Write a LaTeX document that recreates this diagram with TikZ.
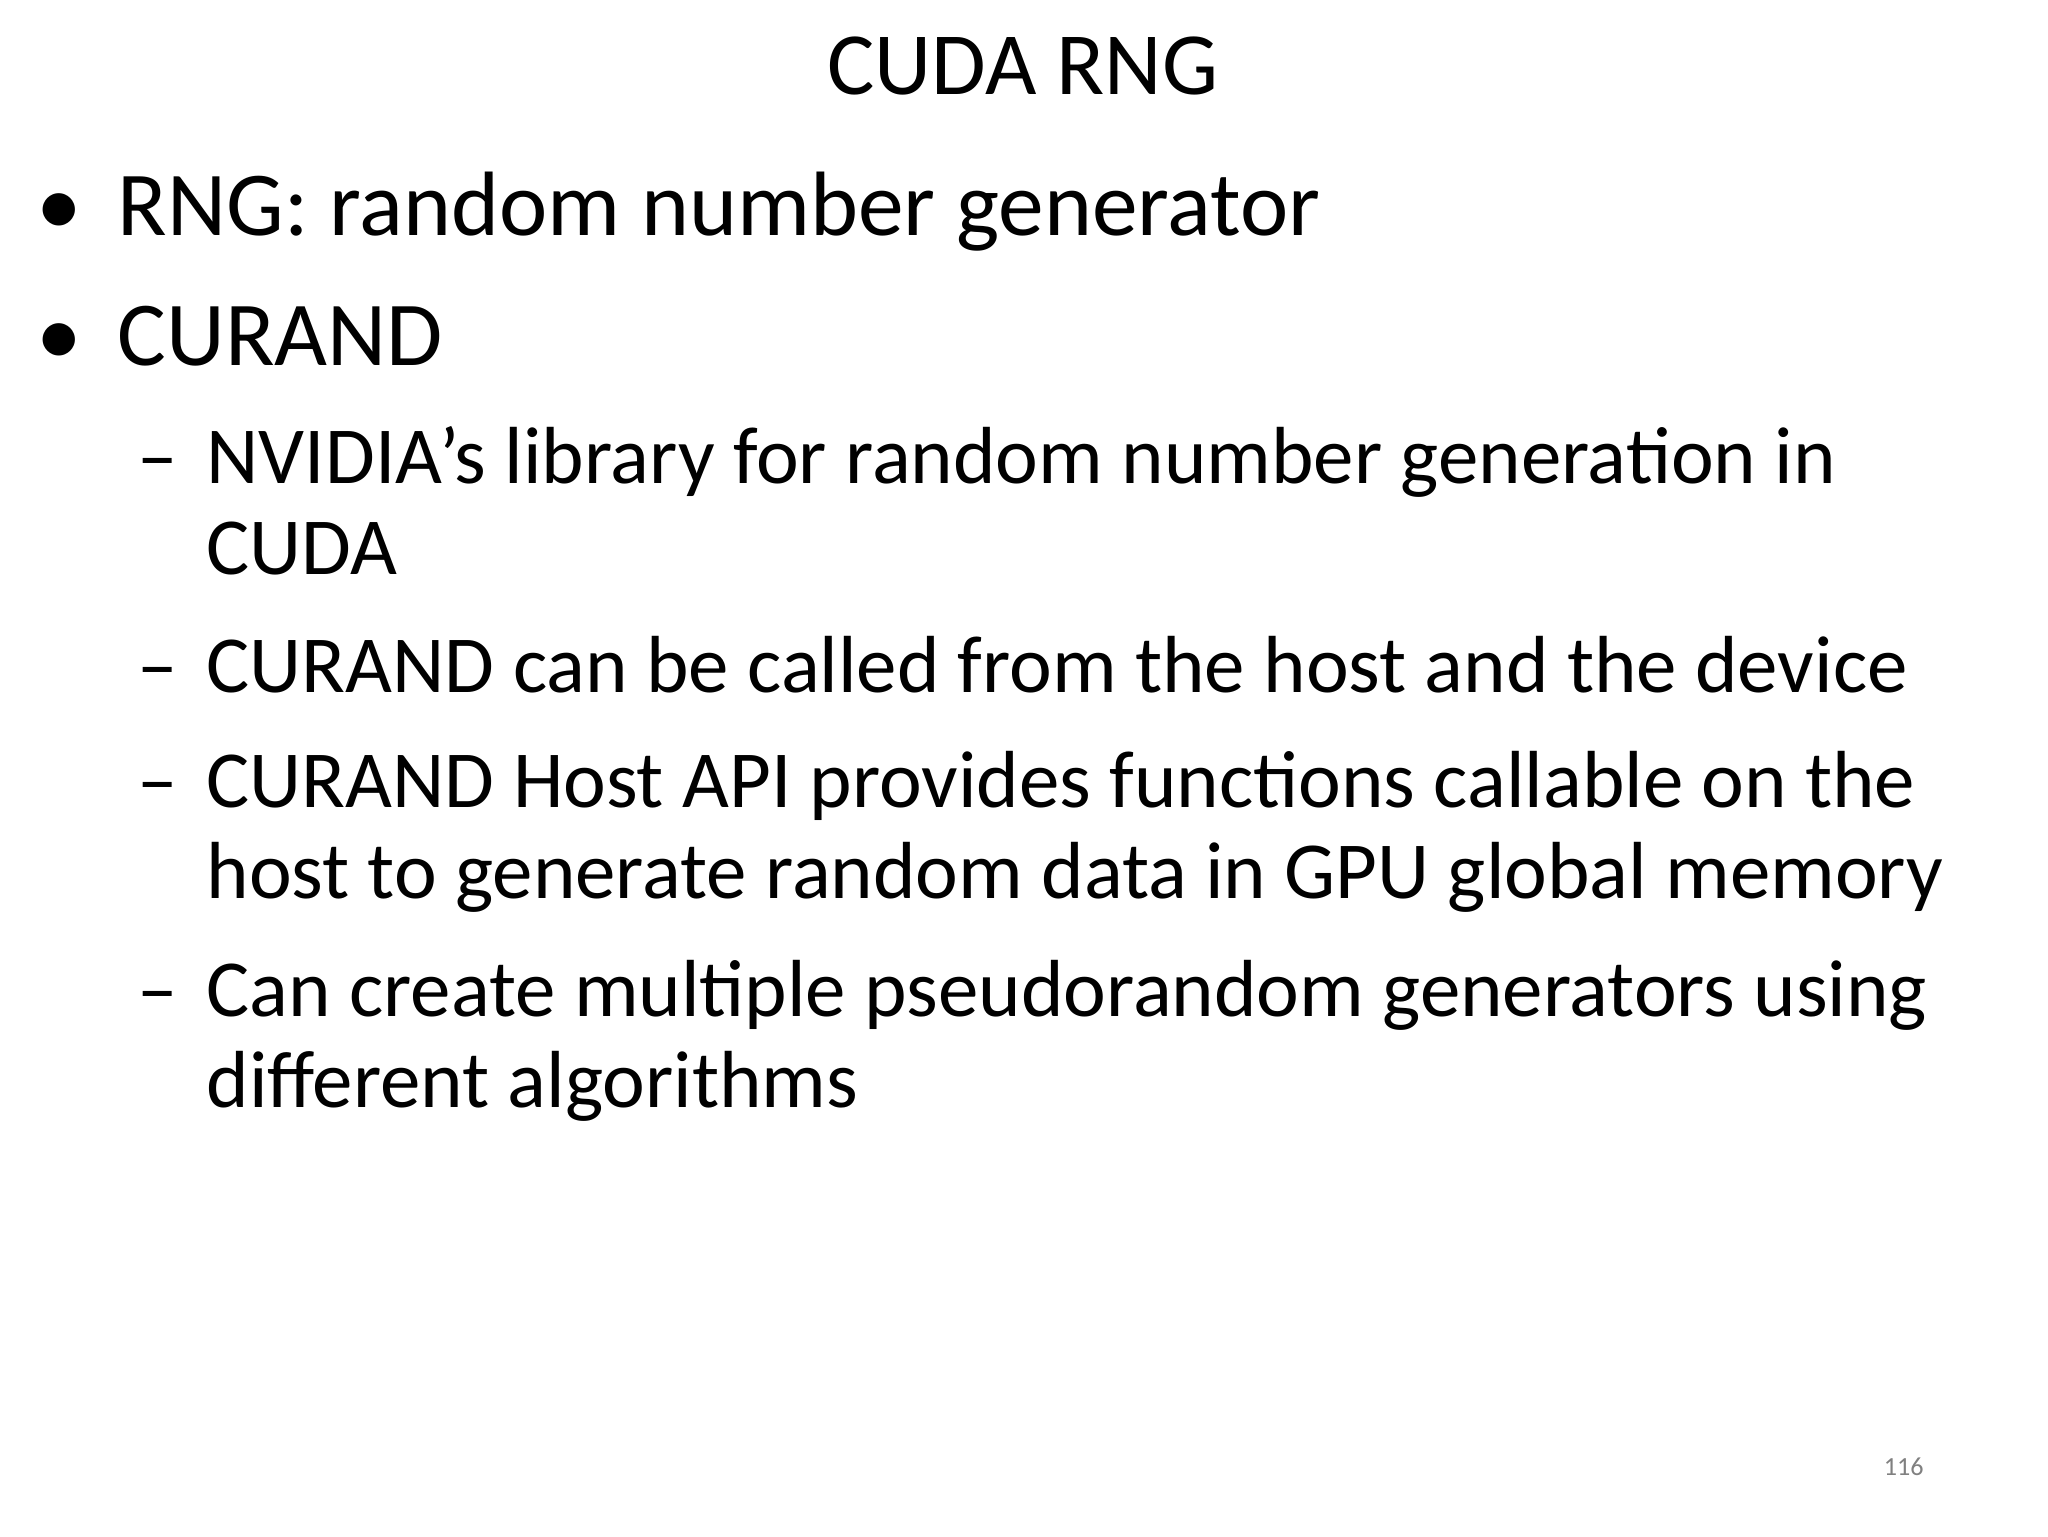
\documentclass[tikz,border=0pt]{standalone}
\usepackage{fontspec}
\setmainfont{Carlito}
\begin{document}
\begin{tikzpicture}[x=1pt,y=-1pt,
  t/.style={anchor=base west,inner sep=0pt,font=\fontsize{62}{70}\selectfont},
  b/.style={anchor=base west,inner sep=0pt,font=\fontsize{70}{80}\selectfont}]
\useasboundingbox (0,0) rectangle (1568,1176);
\node[anchor=base,inner sep=0pt,font=\fontsize{68}{80}\selectfont] (title) at (783,72) {CUDA RNG};
\node[b] (d1) at (28,180) {•};
\node[b] (l1) at (90,180) {RNG: random number generator};
\node[b] (d2) at (28,280) {•};
\node[b] (l2) at (90,280) {CURAND};
\node[t] (e1) at (105,370) {–};
\node[t] (a1) at (158,370) {NVIDIA's library for random number generation in};
\node[t] (a2) at (158,440) {CUDA};
\node[t] (e2) at (105,530) {–};
\node[t] (b1) at (158,530) {CURAND can be called from the host and the device};
\node[t] (e3) at (105,618) {–};
\node[t] (c1) at (158,618) {CURAND Host API provides functions callable on the};
\node[t] (c2) at (158,688) {host to generate random data in GPU global memory};
\node[t] (e4) at (105,778) {–};
\node[t] (f1) at (158,778) {Can create multiple pseudorandom generators using};
\node[t] (f2) at (158,848) {different algorithms};
\node[anchor=base east,inner sep=0pt,text=gray,font=\fontsize{20}{24}\selectfont] (pg) at (1473,1130) {116};
\end{tikzpicture}
\end{document}
